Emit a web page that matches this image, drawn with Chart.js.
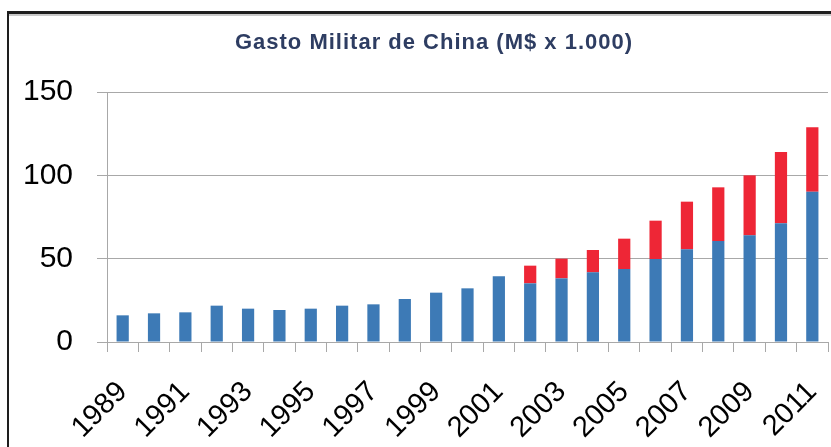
<!DOCTYPE html>
<html>
<head>
<meta charset="utf-8">
<script src="https://cdn.jsdelivr.net/npm/chart.js@4/dist/chart.umd.min.js"></script>
<style>
  html, body { margin: 0; padding: 0; background: #fff; }
  #wrap { position: relative; width: 831px; height: 447px; }
</style>
</head>
<body>
<div id="wrap"><canvas id="c" width="831" height="447"></canvas></div>
<script>
// Chinese military spending, billions of US$
const years = ['1989','1990','1991','1992','1993','1994','1995','1996','1997','1998','1999','2000',
               '2001','2002','2003','2004','2005','2006','2007','2008','2009','2010','2011'];
const baseSpending = [16.0, 17.2, 17.8, 21.8, 20.0, 19.2, 20.0, 21.8, 22.6, 25.8, 29.6, 32.2,
                      39.4, 35.2, 38.2, 41.8, 43.8, 49.8, 55.6, 60.6, 64.0, 71.2, 90.2];
const extraSpending = [0, 0, 0, 0, 0, 0, 0, 0, 0, 0, 0, 0,
                       0, 10.6, 11.8, 13.4, 18.2, 23.0, 28.6, 32.2, 36.0, 42.8, 38.6];
const yTicks = [0, 50, 100, 150];
const titleText = 'Gasto Militar de China (M$ x 1.000)';

// White background, the frame and the heading
const framePlugin = {
  id: 'frame',
  beforeDraw(chart) {
    const ctx = chart.ctx;
    ctx.save();
    ctx.fillStyle = '#ffffff';
    ctx.fillRect(0, 0, chart.width, chart.height);
    ctx.fillStyle = '#1e1e1e';
    ctx.fillRect(7, 11, chart.width - 7, 3);
    ctx.fillRect(7, 11, 2, chart.height - 11);
    ctx.fillStyle = '#c9c9c9';
    ctx.fillRect(9, 14, chart.width - 9, 2);
    ctx.restore();
  },
  afterDraw(chart) {
    const ctx = chart.ctx;
    ctx.save();
    ctx.fillStyle = '#2e3d62';
    ctx.font = 'bold 22px "Liberation Sans", Arial, sans-serif';
    ctx.letterSpacing = '1px';
    ctx.textAlign = 'center';
    ctx.textBaseline = 'middle';
    ctx.fillText(titleText, 434, 43);
    ctx.restore();
  }
};

new Chart(document.getElementById('c'), {
  type: 'bar',
  data: {
    labels: years,
    datasets: [
      { label: 'Base', data: baseSpending, backgroundColor: '#3d7ab6', stack: 's' },
      { label: 'Extra', data: extraSpending, backgroundColor: '#ee2636', stack: 's' }
    ]
  },
  options: {
    responsive: false,
    animation: false,
    layout: { padding: { left: 10, top: 92, right: 3, bottom: 0 } },
    plugins: { legend: { display: false }, title: { display: false }, tooltip: { enabled: false } },
    datasets: { bar: { barPercentage: 0.39, categoryPercentage: 1.0 } },
    scales: {
      x: {
        stacked: true,
        afterFit(scale) {
          scale.height = 105;
          scale.paddingLeft = 0;
          scale.paddingRight = 0;
        },
        grid: { display: true, drawOnChartArea: false, drawTicks: true, tickLength: 10, color: '#a8a8a8', offset: true },
        border: { display: true, color: '#a8a8a8', width: 1 },
        ticks: {
          autoSkip: false,
          maxRotation: 45,
          minRotation: 45,
          padding: 23,
          color: '#000',
          font: { family: '"Liberation Sans", Arial, sans-serif', size: 29 },
          callback(value, index) { return index % 2 === 0 ? years[index] : ''; }
        }
      },
      y: {
        stacked: true,
        min: 0,
        max: 150,
        afterFit(scale) {
          scale.width = 97;
          scale.paddingTop = 0;
          scale.paddingBottom = 0;
        },
        afterBuildTicks(scale) { scale.ticks = yTicks.map(v => ({ value: v })); },
        grid: { color: '#a8a8a8', lineWidth: 1, tickLength: 10 },
        border: { display: true, color: '#a8a8a8', width: 1 },
        ticks: {
          padding: 24,
          color: '#000',
          font: { family: '"Liberation Sans", Arial, sans-serif', size: 30 }
        }
      }
    }
  },
  plugins: [framePlugin]
});
</script>
</body>
</html>
